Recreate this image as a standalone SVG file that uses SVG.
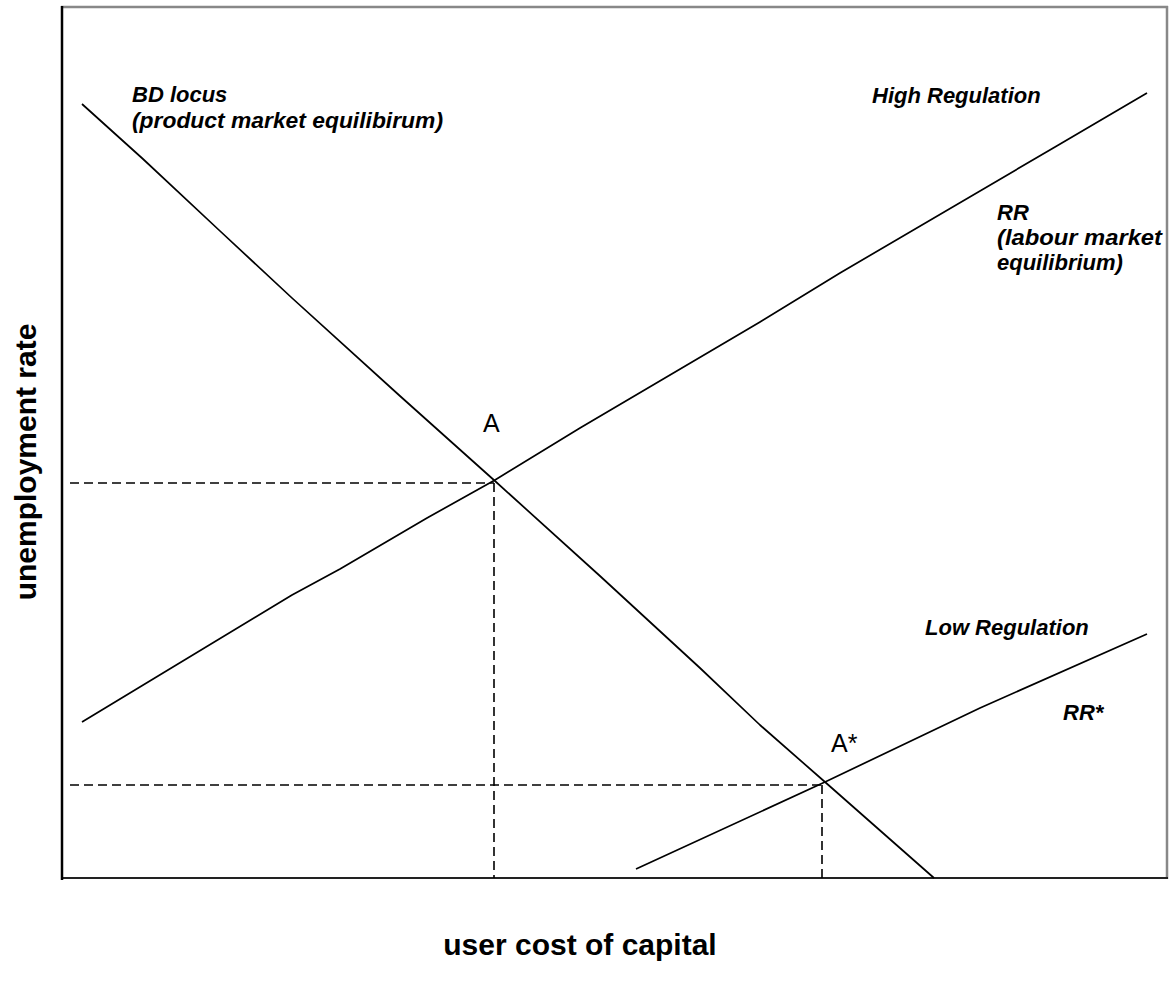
<svg xmlns="http://www.w3.org/2000/svg" width="1171" height="998" viewBox="0 0 1171 998">
<style>
.curve{fill:none;stroke:#000;stroke-width:1.7;stroke-linejoin:round}
.dash{fill:none;stroke:#000;stroke-width:1.6;stroke-dasharray:9 5}
.lab{font-family:"Liberation Sans",Arial,sans-serif;font-weight:bold;font-style:italic;font-size:22px;fill:#000}
.pt{font-family:"Liberation Sans",Arial,sans-serif;font-size:25px;fill:#000}
.axis{font-family:"Liberation Sans",Arial,sans-serif;font-weight:bold;font-size:30px;fill:#000}
</style>
<rect width="1171" height="998" fill="#fff"/>
<g id="frame">
<line x1="61" y1="7" x2="1168" y2="7" stroke="#888" stroke-width="2.5"/>
<line x1="1167" y1="6" x2="1167" y2="879" stroke="#888" stroke-width="2.5"/>
<line x1="61" y1="878" x2="1168" y2="878" stroke="#222" stroke-width="2"/>
<line x1="62" y1="6" x2="62" y2="880" stroke="#000" stroke-width="2.5"/>
</g>
<g id="connectors">
<polyline id="bd" class="curve" points="82,104 143,159 220,231 292,298 400,396 495,481 600,576 700,668 760,725 825,782 934,878"/>
<polyline id="rr" class="curve" points="82,722 292,595 340,569 427,518 495,480 580,428 760,322 840,273 1055,147 1147,93"/>
<polyline id="rrstar" class="curve" points="636,869 825,782 980,708 1147,634"/>
<line class="dash" x1="70" y1="483" x2="494" y2="483"/>
<line class="dash" x1="494" y1="483" x2="494" y2="878"/>
<line class="dash" x1="70" y1="785" x2="822" y2="785"/>
<line class="dash" x1="822" y1="785" x2="822" y2="878"/>
</g>
<g id="label-bd">
<text class="lab" x="132" y="102">BD locus</text>
<text class="lab" x="132" y="128" textLength="311" lengthAdjust="spacingAndGlyphs">(product market equilibirum)</text>
</g>
<g id="label-high">
<text class="lab" x="872" y="103">High Regulation</text>
</g>
<g id="label-rr">
<text class="lab" x="997" y="220">RR</text>
<text class="lab" x="997" y="245" textLength="165" lengthAdjust="spacingAndGlyphs">(labour market</text>
<text class="lab" x="997" y="270">equilibrium)</text>
</g>
<g id="label-low">
<text class="lab" x="925" y="635">Low Regulation</text>
</g>
<g id="label-rrstar">
<text class="lab" x="1063" y="720">RR*</text>
</g>
<g id="point-a">
<text class="pt" x="483" y="432">A</text>
</g>
<g id="point-astar">
<text class="pt" x="831" y="752">A*</text>
</g>
<g id="axis-labels">
<text class="axis" x="580" y="955" text-anchor="middle">user cost of capital</text>
<text class="axis" transform="translate(36,462) rotate(-90)" text-anchor="middle">unemployment rate</text>
</g>
</svg>
